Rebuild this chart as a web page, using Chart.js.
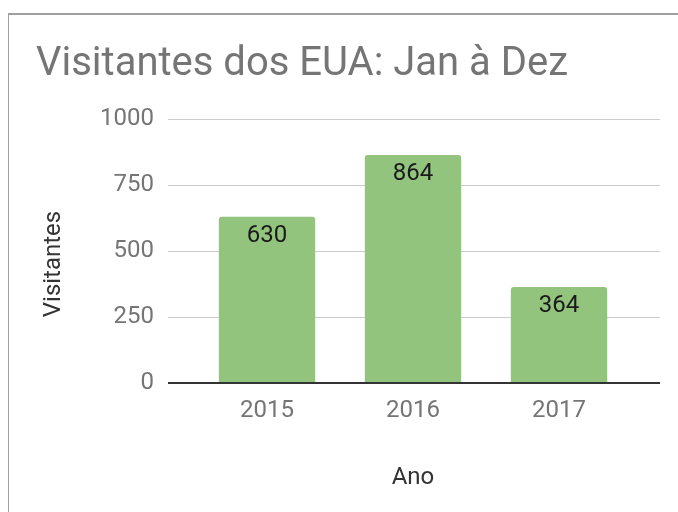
<!DOCTYPE html>
<html>
<head>
<meta charset="utf-8">
<script src="https://cdn.jsdelivr.net/npm/chart.js@4"></script>
<style>
  html, body { margin: 0; padding: 0; background: #fff; }
  #wrap { position: relative; width: 678px; height: 512px; }
  #frame { position: absolute; left: 8px; top: 13px; right: 0; bottom: 0;
           border-left: 1px solid #a0a0a0; border-top: 2px solid #a0a0a0; }
  canvas { position: absolute; left: 0; top: 0; }
</style>
</head>
<body>
<div id="wrap">
  <div id="frame"></div>
  <canvas id="chart" width="678" height="512"></canvas>
</div>
<script>
// chart data
const years = ["2015", "2016", "2017"];
const visitors = [630, 864, 364];
const yTicks = [0, 250, 500, 750, 1000];

const titleText = "Visitantes dos EUA: Jan à Dez";
const xTitle = "Ano";
const yTitle = "Visitantes";

// gridlines run past the bars on both sides, like the original
const gridPlugin = {
  id: "wideGrid",
  beforeDatasetsDraw(chart) {
    const ctx = chart.ctx;
    const y = chart.scales.y;
    ctx.save();
    yTicks.forEach((v) => {
      if (v === 0) return;
      const py = Math.round(y.getPixelForValue(v)) + 0.5;
      ctx.beginPath();
      ctx.strokeStyle = "#cccccc";
      ctx.lineWidth = 1;
      ctx.moveTo(168, py);
      ctx.lineTo(660, py);
      ctx.stroke();
    });
    ctx.restore();
  },
  afterDatasetsDraw(chart) {
    // baseline drawn over the bars
    const ctx = chart.ctx;
    const py = Math.round(chart.scales.y.getPixelForValue(0));
    ctx.save();
    ctx.fillStyle = "#333333";
    ctx.fillRect(168, py - 1, 492, 2);
    ctx.restore();
  }
};

// value labels inside the top of each bar, plus the y axis title
const labelPlugin = {
  id: "barLabels",
  afterDatasetsDraw(chart) {
    const ctx = chart.ctx;
    const meta = chart.getDatasetMeta(0);
    ctx.save();
    ctx.font = "24px Roboto";
    ctx.fillStyle = "#1a1a1a";
    ctx.textAlign = "center";
    ctx.textBaseline = "middle";
    meta.data.forEach((bar, i) => {
      ctx.fillText(String(visitors[i]), bar.x, bar.y + 19);
    });
    ctx.restore();
  },
  afterDraw(chart) {
    const ctx = chart.ctx;
    ctx.save();
    ctx.translate(60, 264);
    ctx.rotate(-Math.PI / 2);
    ctx.font = "24px Roboto";
    ctx.fillStyle = "#333333";
    ctx.textAlign = "center";
    ctx.textBaseline = "alphabetic";
    ctx.fillText(yTitle, 0, 0);
    ctx.restore();
  }
};

const ctx = document.getElementById("chart").getContext("2d");
new Chart(ctx, {
  type: "bar",
  data: {
    labels: years,
    datasets: [
      {
        label: yTitle,
        data: visitors,
        backgroundColor: "#93c47d",
        borderRadius: { topLeft: 3, topRight: 3 },
        borderSkipped: "bottom",
        barPercentage: 0.66,
        categoryPercentage: 1.0,
      },
    ],
  },
  options: {
    responsive: false,
    animation: false,
    layout: { padding: { left: 36, right: 46, top: 13, bottom: 0 } },
    plugins: {
      legend: { display: false },
      tooltip: { enabled: false },
      title: {
        display: true,
        text: titleText,
        align: "start",
        color: "#757575",
        font: { family: "Roboto", size: 40, weight: "normal" },
        padding: { top: 28, bottom: 30 },
      },
    },
    scales: {
      x: {
        offset: true,
        grid: { display: false, drawTicks: false },
        border: { display: false },
        ticks: {
          color: "#757575",
          font: { family: "Roboto", size: 24 },
          padding: 14,
        },
        title: {
          display: true,
          text: xTitle,
          color: "#333333",
          font: { family: "Roboto", size: 24 },
          padding: { top: 0, bottom: 20 },
        },
        afterFit(scale) {
          scale.height = 129;
        },
      },
      y: {
        min: 0,
        max: 1000,
        grid: { display: false, drawTicks: false },
        border: { display: false },
        afterBuildTicks(scale) {
          scale.ticks = yTicks.map((v) => ({ value: v }));
        },
        ticks: {
          color: "#757575",
          font: { family: "Roboto", size: 24 },
          padding: 40,
          callback: (v) => String(v),
        },
        afterFit(scale) {
          scale.width = 158;
        },
      },
    },
  },
  plugins: [gridPlugin, labelPlugin],
});
</script>
</body>
</html>
